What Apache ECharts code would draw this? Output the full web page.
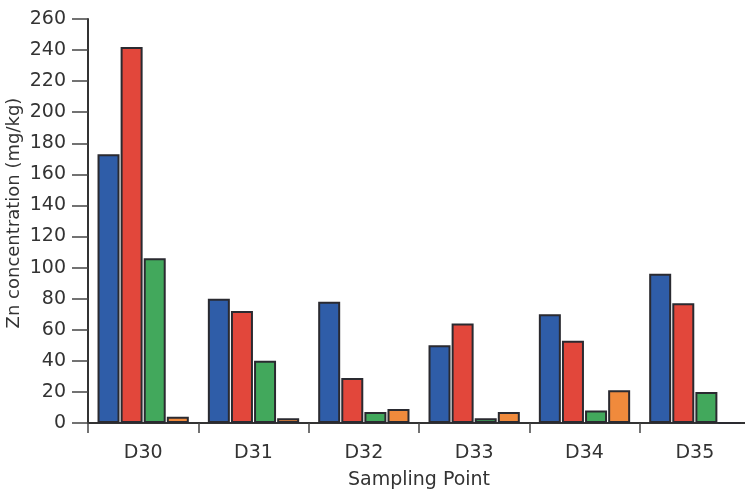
<!DOCTYPE html>
<html><head><meta charset="utf-8">
<script src="https://cdn.jsdelivr.net/npm/echarts@6/dist/echarts.min.js"></script>
<style>html,body{margin:0;padding:0;background:#fff}#c{width:745px;height:491px}</style>
</head><body><div id="c"></div>
<script>
const categories = ['D30','D31','D32','D33','D34','D35'];
const seriesBlue   = [173, 80, 78, 50, 70, 96];
const seriesRed    = [242, 72, 29, 64, 53, 77];
const seriesGreen  = [106, 40, 7, 3, 8, 20];
const seriesOrange = [4, 3, 9, 7, 21, 0];
const colors = ['#2f5da8', '#e2473b', '#42a85c', '#f08a3c'];
const yTicks = {min: 0, max: 260, interval: 20};
const yName = 'Zn concentration (mg/kg)';
const xName = 'Sampling Point';

const chart = echarts.init(document.getElementById('c'), null, {renderer: 'canvas'});
const font = 'DejaVu Sans';
const txt = '#333';
function bar(data, i) {
  return {type: 'bar', data: data, barWidth: 22, barGap: '5%',
    itemStyle: {color: colors[i], borderColor: '#2a2a30', borderWidth: 2}};
}
chart.setOption({
  animation: false,
  backgroundColor: '#fff',
  grid: {left: 88, right: -5, top: 19, bottom: 68, outerBoundsMode: 'none', containLabel: false},
  graphic: [{
    type: 'text', x: 5, y: 213, rotation: Math.PI / 2,
    style: {text: yName, font: '18px "DejaVu Sans"', fill: txt, align: 'center', verticalAlign: 'top'}
  }],
  xAxis: {
    type: 'category', data: categories,
    name: xName, nameLocation: 'middle', nameGap: 48,
    nameTextStyle: {fontFamily: font, fontSize: 19, color: txt},
    axisLine: {lineStyle: {color: '#333', width: 2}},
    axisTick: {show: true, alignWithLabel: false, length: 10, lineStyle: {color: '#444', width: 1.5}},
    axisLabel: {fontFamily: font, fontSize: 19, color: txt, margin: 21}
  },
  yAxis: {
    type: 'value', min: yTicks.min, max: yTicks.max, interval: yTicks.interval,
    splitLine: {show: false},
    axisLine: {show: true, lineStyle: {color: '#333', width: 2}},
    axisTick: {show: true, length: 16, lineStyle: {color: '#444', width: 1.5}},
    axisLabel: {fontFamily: font, fontSize: 19, color: txt, margin: 22}
  },
  series: [bar(seriesBlue,0), bar(seriesRed,1), bar(seriesGreen,2), bar(seriesOrange,3)]
});
</script></body></html>
